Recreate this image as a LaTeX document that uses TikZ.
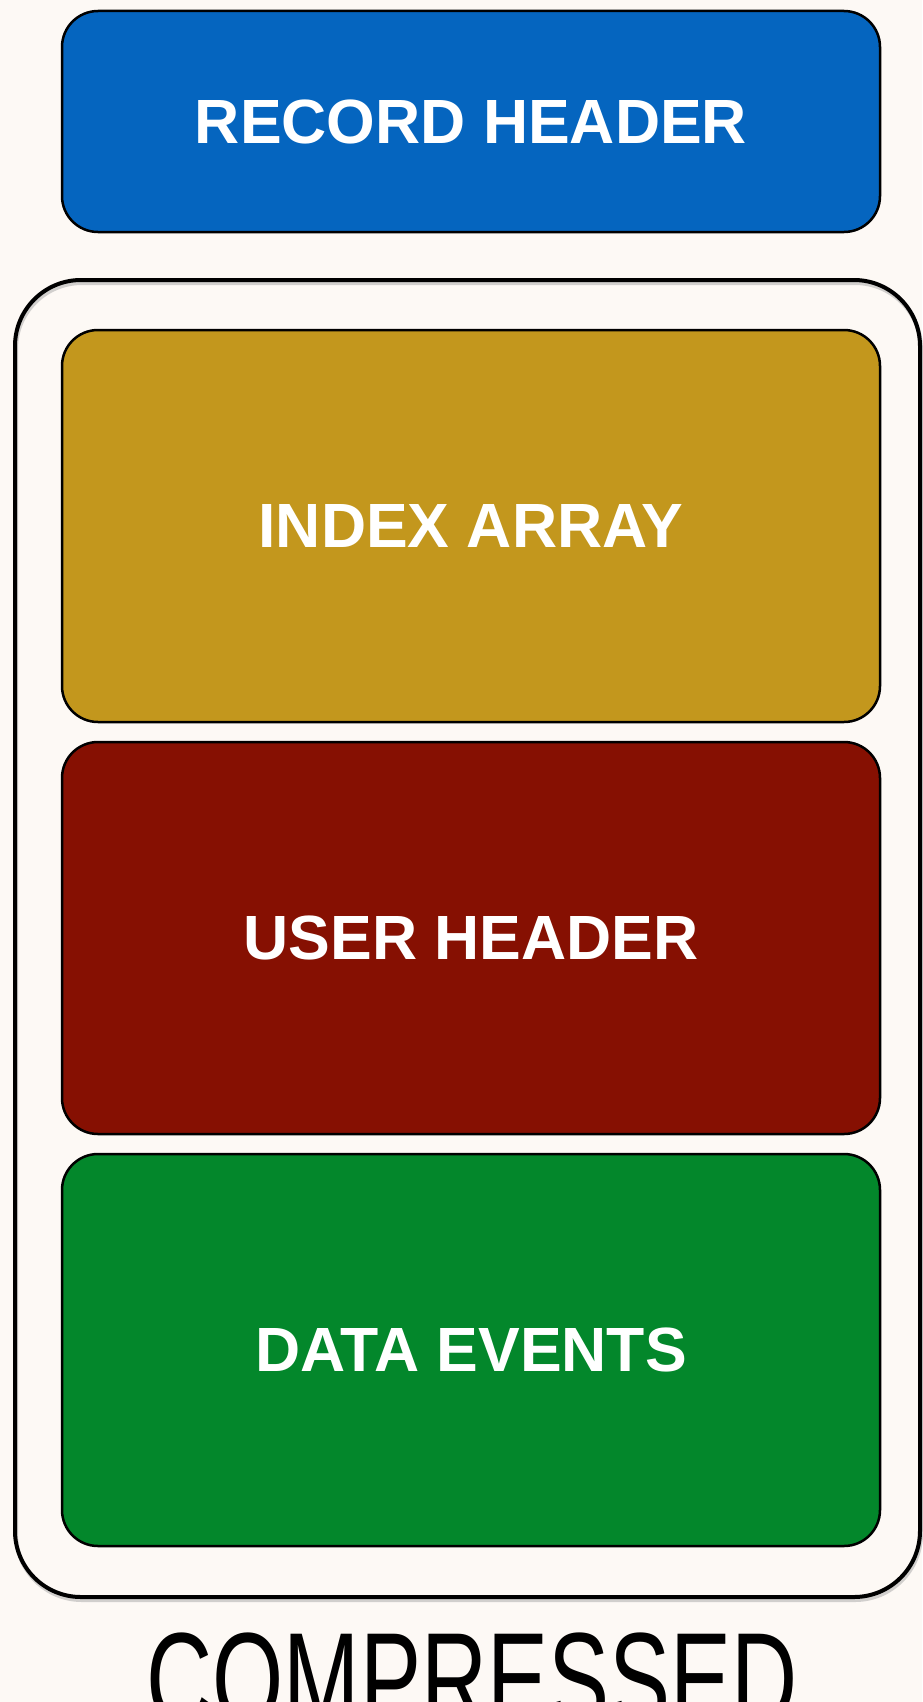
\documentclass[tikz,border=0pt]{standalone}
\usepackage{fontspec}
\setmainfont{Liberation Sans}
\definecolor{bgcol}{HTML}{FDF9F5}
\definecolor{bluecol}{HTML}{0565BF}
\definecolor{goldcol}{HTML}{C3971D}
\definecolor{redcol}{HTML}{861002}
\definecolor{greencol}{HTML}{03872B}
\tikzset{
  block/.style={draw=black, line width=2.5pt, rounded corners=36pt, minimum width=818pt,
    inner sep=0pt, text=white, font=\fontsize{62.5}{75}\selectfont\bfseries},
}
\begin{document}
\begin{tikzpicture}[x=1pt,y=-1pt]
\useasboundingbox (0,0) rectangle (922,1702);
\fill[bgcol] (0,0) rectangle (922,1702);
% outer container
\draw[black!35, line width=4pt, opacity=0.5, rounded corners=66pt] (16,283) rectangle (921,1600);
\node[draw=black, line width=4pt, rounded corners=66pt, minimum width=905pt, minimum height=1317pt, inner sep=0pt] (outer) at (467.5,938.5) {};
\node[block, fill=bluecol, minimum height=221pt] (rec) at (471,121.5) {RECORD HEADER};
\node[block, fill=goldcol, minimum height=392pt] (idx) at (471,526) {INDEX ARRAY};
\node[block, fill=redcol, minimum height=392pt] (usr) at (471,938) {USER HEADER};
\node[block, fill=greencol, minimum height=392pt] (dat) at (471,1350) {DATA EVENTS};
\node[anchor=base, inner sep=0pt, font=\fontsize{132.7}{150}\selectfont] (cmp) at (472,1725) {\scalebox{0.69}[1]{COMPRESSED}};
\end{tikzpicture}
\end{document}
